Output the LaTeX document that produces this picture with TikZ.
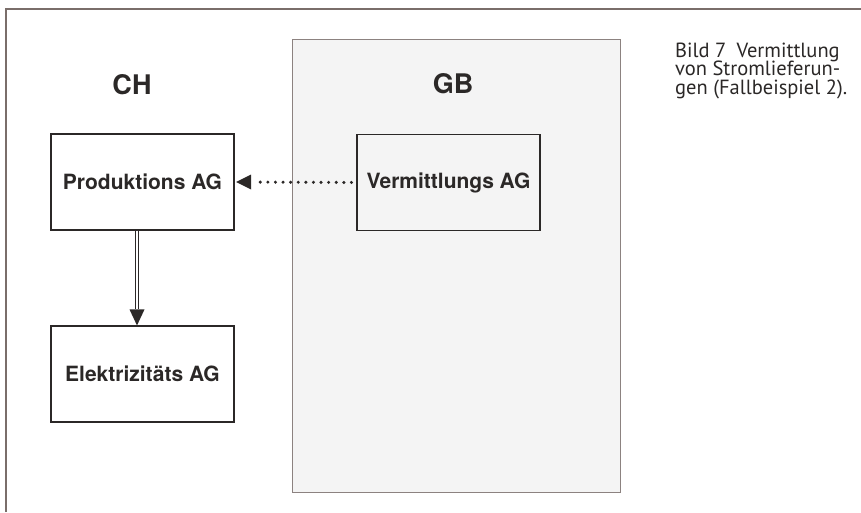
\documentclass[tikz,border=0pt]{standalone}
\usepackage{fontspec}
\setmainfont{TeX Gyre Heros}
\newfontfamily\captionfont{PT Sans}
\usetikzlibrary{arrows.meta,calc}
\definecolor{ink}{HTML}{2B2827}
\definecolor{framec}{HTML}{7A6E6A}
\definecolor{pagefill}{HTML}{F4F4F4}
\definecolor{pageedge}{HTML}{8C8280}
\begin{document}
\begin{tikzpicture}[x=1pt,y=-1pt,
  firm/.style={draw=ink,line width=1.1pt,minimum width=183pt,minimum height=96pt,
    inner sep=0pt,font=\fontsize{21}{24}\selectfont\bfseries,text=ink},
  country/.style={font=\fontsize{27}{30}\selectfont\bfseries,text=ink},
  captionline/.style={anchor=base west,inner sep=0pt,text=ink,
    font=\captionfont\fontsize{20.5}{18}\selectfont},
  tipfill/.style={fill=ink}]
\useasboundingbox (0,0) rectangle (861,512);
% outer frame, open at the right and bottom
\draw[framec,line width=1.2pt] (6,512) -- (6,9) -- (861,9);
% light page area behind the GB side
\filldraw[fill=pagefill,draw=pageedge,line width=0.9pt] (292,39) rectangle (620,492);
% country labels
\node[country] (ch) at (132,85) {CH};
\node[country] (gb) at (453,84) {GB};
% companies
\node[firm] (prod) at (142.5,182) {Produktions AG};
\node[firm] (elek) at (142.5,374) {Elektrizitäts AG};
\node[firm] (verm) at (448.5,182.5) {Vermittlungs AG};
% dotted link: Vermittlungs AG -> Produktions AG
\draw[ink,line width=3.4pt,line cap=round,dash pattern=on 0pt off 7.6pt,
  shorten <=5pt,shorten >=22pt] (verm.west) -- (prod.east);
\fill[tipfill] ($(prod.east)+(1.5,0)$) -- ++(15,-7.5) -- ++(0,15) -- cycle;
% double line: Produktions AG -> Elektrizitäts AG
\draw[ink,line width=1.1pt,double=white,double distance=2.6pt,shorten >=16pt]
  (prod.south -| 137,0) -- (elek.north -| 137,0);
\fill[tipfill] (elek.north -| 137,0) -- ++(-7.5,-16) -- ++(15,0) -- cycle;
% caption, one node per line
\node[captionline] (cap1) at (675,57) {Bild 7\enspace Vermittlung};
\node[captionline] (cap2) at (675,75.5) {von Stromlieferun-};
\node[captionline] (cap3) at (675,94) {gen (Fallbeispiel 2).};
\end{tikzpicture}
\end{document}
